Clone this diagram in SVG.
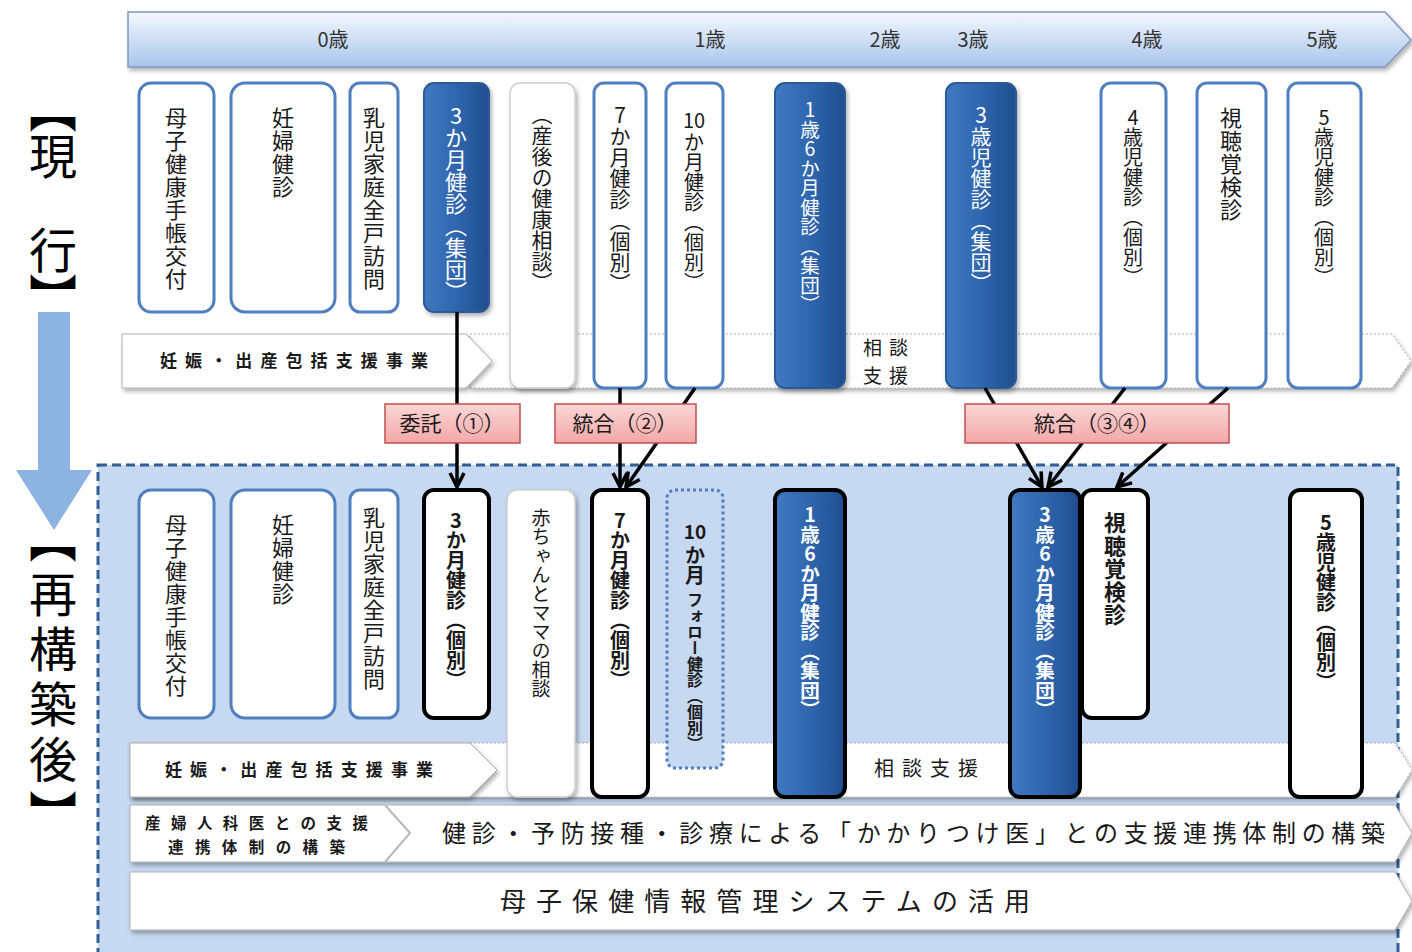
<svg xmlns="http://www.w3.org/2000/svg" width="1412" height="952" viewBox="0 0 1412 952">
<defs>
<style>
text{font-family:"Noto Sans CJK JP","Noto Sans CJK SC",sans-serif;fill:#1a1a1a}
.vt{writing-mode:vertical-rl;text-orientation:upright}
.b{font-weight:bold}
.w{fill:#fff}
.bx{fill:#fff;stroke:#4f7fbf;stroke-width:3}
.bk{fill:#fff;stroke:#000;stroke-width:4}
.dk{fill:url(#gdk);stroke:#2a5a98;stroke-width:2}
.dkb{fill:url(#gdk);stroke:#000;stroke-width:4}
.pl{fill:#fff;stroke:#cfcfcf;stroke-width:1.5}
.band{fill:#fff;stroke:#b0b0b0;stroke-width:1}
.pk{fill:url(#gpk);stroke:#c0504d;stroke-width:1.5}
.cn{stroke:#000;stroke-width:3.5;fill:none;marker-end:url(#ah)}
.age{font-size:20px;fill:#333;text-anchor:middle}
.big{fill:#000}
</style>
<linearGradient id="ghd" x1="0" y1="0" x2="0" y2="1">
<stop offset="0" stop-color="#f4f8fe"/><stop offset="1" stop-color="#a9c5ec"/>
</linearGradient>
<linearGradient id="gdk" x1="0" y1="0" x2="1" y2="0">
<stop offset="0" stop-color="#4079c2"/><stop offset="0.5" stop-color="#2f66ae"/><stop offset="1" stop-color="#1f4d8e"/>
</linearGradient>
<linearGradient id="gpk" x1="0" y1="0" x2="0" y2="1">
<stop offset="0" stop-color="#fcd6d6"/><stop offset="1" stop-color="#f3a7a7"/>
</linearGradient>
<filter id="sh" x="-10%" y="-10%" width="130%" height="130%">
<feDropShadow dx="2" dy="3" stdDeviation="2" flood-color="#000" flood-opacity="0.3"/>
</filter>
<marker id="ah" viewBox="0 0 20 20" markerWidth="20" markerHeight="20" refX="17" refY="10" orient="auto" markerUnits="userSpaceOnUse">
<path d="M3,3 L17,10 L3,17" stroke="#000" stroke-width="3.5" fill="none"/>
</marker>
</defs>
<rect width="1412" height="952" fill="#fff"/>

<!-- left labels -->
<g id="label-current">
<text class="vt big" x="53" y="85" font-size="48" letter-spacing="-1">【現　行】</text>
</g>
<polygon id="transition-arrow" points="38,312 70,312 70,470 92,470 54,530 16,470 38,470" fill="#8db3e2"/>
<g id="label-after">
<text class="vt big" x="53" y="515" font-size="48" letter-spacing="7">【再構築後】</text>
</g>

<!-- header -->
<g id="age-header">
<polygon points="128,12 1385,12 1411,40 1385,67 128,67" fill="url(#ghd)" stroke="#7f98bd" stroke-width="1.5" filter="url(#sh)"/>
<text class="age" x="333" y="47">0歳</text>
<text class="age" x="710" y="47">1歳</text>
<text class="age" x="885" y="47">2歳</text>
<text class="age" x="973" y="47">3歳</text>
<text class="age" x="1147" y="47">4歳</text>
<text class="age" x="1322" y="47">5歳</text>
</g>

<!-- top bands -->
<g id="top-band-consult">
<polygon class="band" points="470,334 1392,334 1411,361 1392,388 470,388" stroke-dasharray="2 2" filter="url(#sh)"/>
<text font-size="19" letter-spacing="7" text-anchor="middle"><tspan x="889" y="355">相談</tspan><tspan x="889" y="383">支援</tspan></text>
</g>
<g id="top-band-support">
<polygon class="band" points="122,334 466,334 492,361 466,388 122,388" filter="url(#sh)"/>
<text class="b" x="160" y="367" font-size="17" textLength="268" lengthAdjust="spacing">妊娠・出産包括支援事業</text>
</g>

<!-- top boxes -->
<g id="t-boshi"><rect class="bx" x="139" y="83" width="75" height="229" rx="12"/><text class="vt" x="176" y="107" font-size="22" letter-spacing="1">母子健康手帳交付</text></g>
<g id="t-ninpu"><rect class="bx" x="231" y="83" width="104" height="229" rx="14"/><text class="vt" x="283" y="107" font-size="22" letter-spacing="1">妊婦健診</text></g>
<g id="t-houmon"><rect class="bx" x="350" y="83" width="48" height="229" rx="10"/><text class="vt" x="374" y="107" font-size="22" letter-spacing="1">乳児家庭全戸訪問</text></g>
<g id="t-3m"><rect class="dk" x="424" y="83" width="65" height="229" rx="10" filter="url(#sh)"/><text class="vt w" x="456" y="105" font-size="22">3か月健診（集団）</text></g>
<g id="t-sango"><rect class="pl" x="510" y="83" width="65" height="305" rx="10" filter="url(#sh)"/><text class="vt" x="542" y="104" font-size="21">（産後の健康相談）</text></g>
<g id="t-7m"><rect class="bx" x="594" y="83" width="52" height="305" rx="10"/><text class="vt" x="620" y="105" font-size="21">7か月健診（個別）</text></g>
<g id="t-10m"><rect class="bx" x="666" y="83" width="57" height="305" rx="10"/><text x="694" y="128" font-size="20" text-anchor="middle">10</text><text class="vt" x="694" y="132" font-size="20">か月健診（個別）</text></g>
<g id="t-1y6m"><rect class="dk" x="775" y="83" width="70" height="305" rx="10" filter="url(#sh)"/><text class="vt w" x="810" y="100" font-size="19.5">1歳6か月健診（集団）</text></g>
<g id="t-3y"><rect class="dk" x="946" y="83" width="70" height="305" rx="10" filter="url(#sh)"/><text class="vt w" x="981" y="105" font-size="21">3歳児健診（集団）</text></g>
<g id="t-4y"><rect class="bx" x="1101" y="83" width="65" height="305" rx="10"/><text class="vt" x="1133" y="107" font-size="20">4歳児健診（個別）</text></g>
<g id="t-shichou"><rect class="bx" x="1197" y="83" width="69" height="305" rx="10"/><text class="vt" x="1231" y="107" font-size="22" letter-spacing="1">視聴覚検診</text></g>
<g id="t-5y"><rect class="bx" x="1288" y="83" width="73" height="305" rx="10"/><text class="vt" x="1324" y="107" font-size="20">5歳児健診（個別）</text></g>

<!-- restructured area -->
<rect id="after-area" x="98" y="465" width="1300" height="500" fill="#c6d9f1" stroke="#2f5f95" stroke-width="3" stroke-dasharray="9 5"/>

<!-- connectors -->
<g id="connectors">
<line class="cn" x1="457" y1="312" x2="457" y2="487"/>
<line class="cn" x1="620" y1="388" x2="620" y2="487"/>
<line class="cn" x1="695" y1="388" x2="626" y2="487"/>
<line class="cn" x1="985" y1="388" x2="1042" y2="487"/>
<line class="cn" x1="1125" y1="388" x2="1048" y2="487"/>
<line class="cn" x1="1228" y1="388" x2="1117" y2="487"/>
</g>

<!-- relation labels -->
<g id="lbl-itaku"><rect class="pk" x="385" y="404" width="135" height="39"/><text x="452" y="431" font-size="21" text-anchor="middle" fill="#333">委託（①）</text></g>
<g id="lbl-tougou2"><rect class="pk" x="555" y="404" width="141" height="39"/><text x="625" y="431" font-size="21" text-anchor="middle" fill="#333">統合（②）</text></g>
<g id="lbl-tougou34"><rect class="pk" x="965" y="404" width="264" height="39"/><text x="1097" y="431" font-size="21" text-anchor="middle" fill="#333">統合（③④）</text></g>

<!-- bottom bands -->
<g id="bottom-band-consult">
<polygon class="band" points="130,743 1395,743 1412,770 1395,797 130,797" stroke-dasharray="2 2" filter="url(#sh)"/>
<text x="930" y="776" font-size="20" letter-spacing="8" text-anchor="middle">相談支援</text>
</g>
<g id="bottom-band-support">
<polygon class="band" points="130,743 470,743 497,770 470,797 130,797" filter="url(#sh)"/>
<text class="b" x="165" y="776" font-size="17" textLength="268" lengthAdjust="spacing">妊娠・出産包括支援事業</text>
</g>
<g id="band-kakaritsuke">
<polygon class="band" points="130,805 1395,805 1412,833 1395,862 130,862" filter="url(#sh)"/>
<polyline points="385,805 410,833 385,862" fill="none" stroke="#b8b8b8" stroke-width="2"/>
<text class="b" font-size="15.5"><tspan x="145" y="829" textLength="223" lengthAdjust="spacing">産婦人科医との支援</tspan><tspan x="168" y="853" textLength="177" lengthAdjust="spacing">連携体制の構築</tspan></text>
<text x="442" y="842" font-size="24" textLength="943" lengthAdjust="spacing">健診・予防接種・診療による「かかりつけ医」との支援連携体制の構築</text>
</g>
<g id="band-system">
<polygon class="band" points="130,872 1395,872 1412,901 1395,930 130,930" filter="url(#sh)"/>
<text x="500" y="911" font-size="26" textLength="530" lengthAdjust="spacing">母子保健情報管理システムの活用</text>
</g>

<!-- bottom boxes -->
<g id="b-boshi"><rect class="bx" x="139" y="490" width="75" height="228" rx="12"/><text class="vt" x="176" y="514" font-size="22" letter-spacing="1">母子健康手帳交付</text></g>
<g id="b-ninpu"><rect class="bx" x="231" y="490" width="104" height="228" rx="14"/><text class="vt" x="283" y="514" font-size="22" letter-spacing="1">妊婦健診</text></g>
<g id="b-houmon"><rect class="bx" x="350" y="490" width="48" height="228" rx="10"/><text class="vt" x="374" y="507" font-size="22" letter-spacing="1">乳児家庭全戸訪問</text></g>
<g id="b-3m"><rect class="bk" x="424" y="490" width="65" height="228" rx="10"/><text class="vt b" x="456" y="510" font-size="20">3か月健診（個別）</text></g>
<g id="b-akachan"><rect class="pl" x="507" y="490" width="68" height="307" rx="10" filter="url(#sh)"/><text class="vt" x="541" y="508" font-size="19">赤ちゃんとママの相談</text></g>
<g id="b-7m"><rect class="bk" x="592" y="490" width="56" height="307" rx="10"/><text class="vt b" x="620" y="510" font-size="20">7か月健診（個別）</text></g>
<g id="b-10m"><rect x="667" y="490" width="56" height="278" rx="8" fill="#c6d9f1" stroke="#4f7fbf" stroke-width="3" stroke-dasharray="3 3"/><text class="b" x="695" y="539" font-size="19" text-anchor="middle">10</text><text class="vt b" x="695" y="545" font-size="20">か月</text><text class="vt b" x="695" y="592" font-size="16">フォロー健診（個別）</text></g>
<g id="b-1y6m"><rect class="dkb" x="775" y="490" width="70" height="307" rx="10"/><text class="vt b w" x="810" y="505" font-size="19.5">1歳6か月健診（集団）</text></g>
<g id="b-3y6m"><rect class="dkb" x="1010" y="490" width="70" height="307" rx="10"/><text class="vt b w" x="1045" y="505" font-size="19.5">3歳6か月健診（集団）</text></g>
<g id="b-shichou"><rect class="bk" x="1082" y="490" width="66" height="228" rx="10"/><text class="vt b" x="1115" y="512" font-size="22" letter-spacing="1">視聴覚検診</text></g>
<g id="b-5y"><rect class="bk" x="1290" y="490" width="72" height="307" rx="10"/><text class="vt b" x="1326" y="512" font-size="20">5歳児健診（個別）</text></g>
</svg>
